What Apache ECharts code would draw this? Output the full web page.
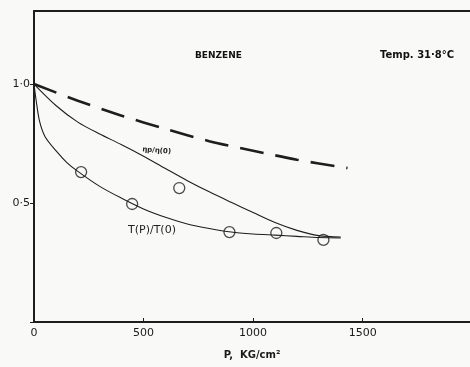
<!DOCTYPE html>
<html><head><meta charset="utf-8">
<script src="https://cdn.jsdelivr.net/npm/echarts@6/dist/echarts.min.js"></script>
<style>html,body{margin:0;padding:0;background:#f9f9f7}#c{width:470px;height:367px}</style>
</head><body><div id="c"></div>
<script>
// Lower curve tau(P)/tau(0)
const tauCurveP = [0, 10, 25, 50, 100, 150, 200, 300, 400, 500, 600, 700, 800, 900, 1000, 1100, 1200, 1300, 1400];
const tauCurveV = [1.0, 0.93, 0.845, 0.78, 0.72, 0.67, 0.633, 0.57, 0.52, 0.475, 0.44, 0.412, 0.393, 0.378, 0.37, 0.365, 0.36, 0.355, 0.353];
// Measured points (circles)
const tauPtsP = [215, 448, 892, 1106, 1321];
const tauPtsV = [0.63, 0.496, 0.378, 0.374, 0.345];
const etaPtsP = [663];
const etaPtsV = [0.563];
// Upper solid curve eta(P)/eta(0)
const etaCurveP = [0, 100, 200, 300, 400, 500, 600, 700, 800, 900, 1000, 1100, 1200, 1300, 1400];
const etaCurveV = [1.0, 0.91, 0.84, 0.79, 0.745, 0.697, 0.645, 0.594, 0.547, 0.503, 0.46, 0.418, 0.385, 0.363, 0.357];
// Dashed curve
const dashP = [0, 200, 400, 600, 800, 1000, 1200, 1431];
const dashV = [1.0, 0.93, 0.867, 0.812, 0.76, 0.72, 0.682, 0.647];
const xTicks = [0, 500, 1000, 1500];
const yTickLabels = {0.5: '0·5', 1: '1·0'};

const zip = (a, b) => a.map((v, i) => [v, b[i]]);
const ink = '#1e1e1e';
const font = 'DejaVu Sans';
const chart = echarts.init(document.getElementById('c'));
chart.setOption({
  backgroundColor: '#f9f9f7',
  animation: false,
  grid: {left: 34, right: 0, top: 11, bottom: 45},
  xAxis: [{
    type: 'value', min: 0, max: 1990, interval: 500,
    axisLine: {show: true, lineStyle: {color: ink, width: 2}},
    axisTick: {show: true, inside: true, length: 4, lineStyle: {color: ink}},
    splitLine: {show: false},
    axisLabel: {color: '#1a1a1a', fontFamily: font, fontSize: 11, margin: 6, showMaxLabel: false,
      formatter: v => xTicks.includes(v) ? String(v) : ''},
    name: 'P,  KG/cm²', nameLocation: 'middle', nameGap: 28,
    nameTextStyle: {color: '#1a1a1a', fontFamily: font, fontSize: 10, fontWeight: 'bold'}
  }, {
    type: 'value', position: 'top', min: 0, max: 1990,
    axisLine: {show: true, lineStyle: {color: ink, width: 2}},
    axisTick: {show: false}, axisLabel: {show: false}, splitLine: {show: false}
  }],
  yAxis: {
    type: 'value', min: 0, max: 1.307, interval: 0.5,
    axisLine: {show: true, lineStyle: {color: ink, width: 2}},
    axisTick: {show: true, length: 4, lineStyle: {color: ink}},
    splitLine: {show: false},
    axisLabel: {color: '#1a1a1a', fontFamily: font, fontSize: 11, margin: 4,
      formatter: v => yTickLabels[v] || '', showMaxLabel: false}
  },
  series: [
    {type: 'line', data: zip(dashP, dashV), smooth: 0.3, symbol: 'none',
      lineStyle: {color: ink, width: 2.6, type: [24, 12]}},
    {type: 'line', data: zip(etaCurveP, etaCurveV), smooth: 0.3, symbol: 'none',
      lineStyle: {color: ink, width: 1.1}},
    {type: 'line', data: zip(tauCurveP, tauCurveV), smooth: 0.3, symbol: 'none',
      lineStyle: {color: ink, width: 1.1}},
    {type: 'scatter', data: zip(tauPtsP, tauPtsV), symbol: 'circle', symbolSize: 11,
      itemStyle: {color: '#f9f9f7', borderColor: ink, borderWidth: 1.3}},
    {type: 'scatter', data: zip(etaPtsP, etaPtsV), symbol: 'circle', symbolSize: 11,
      itemStyle: {color: '#f9f9f7', borderColor: ink, borderWidth: 1.3}}
  ],
  graphic: [
    {type: 'text', left: 195, top: 51, style: {text: 'BENZENE', fill: '#111', font: 'bold 9px ' + font}},
    {type: 'text', left: 380, top: 50, style: {text: 'Temp. 31·8°C', fill: '#111', font: 'bold 10px ' + font}},
    {type: 'text', left: 142, top: 146, rotation: -0.08, style: {text: 'ηp/η(0)', fill: '#222', font: 'bold 7px ' + font}},
    {type: 'text', left: 128, top: 225, style: {text: 'T(P)/T(0)', fill: '#222', font: '11px ' + font}}
  ]
});
</script></body></html>
